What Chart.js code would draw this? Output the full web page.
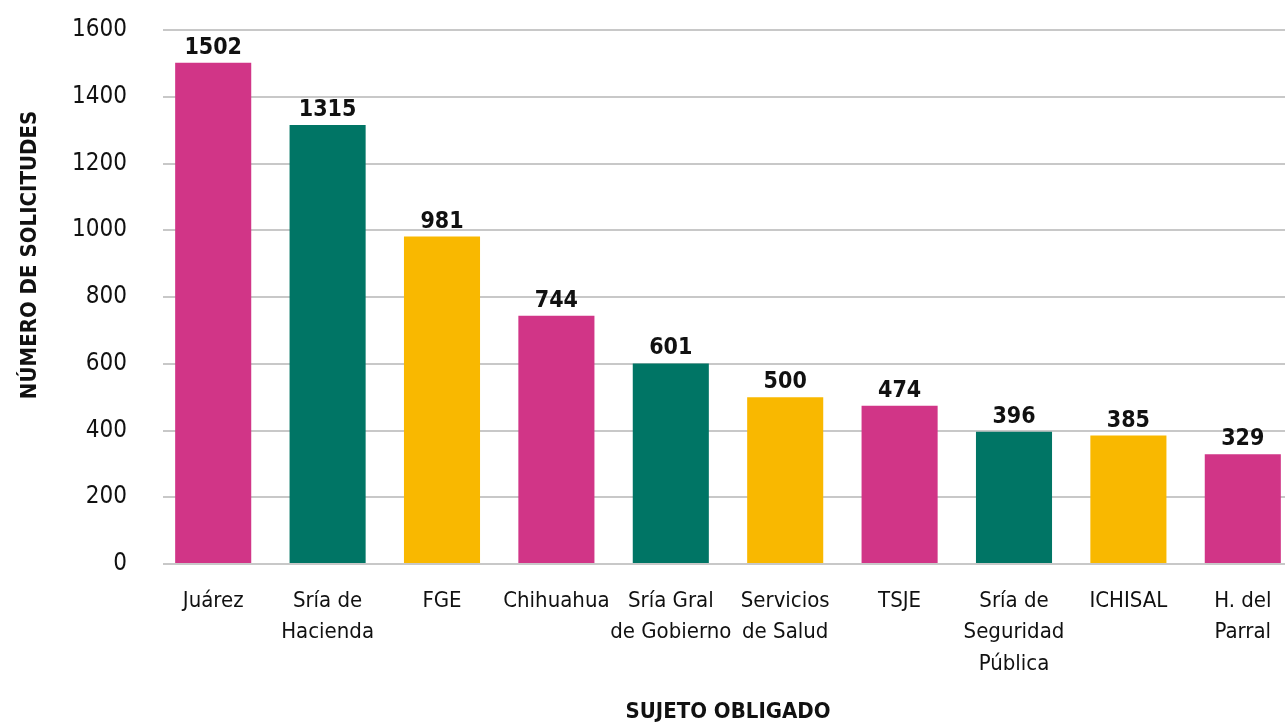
<!DOCTYPE html>
<html>
<head>
<meta charset="utf-8">
<script src="https://cdn.jsdelivr.net/npm/chart.js@4/dist/chart.umd.min.js"></script>
<style>
  html, body { margin: 0; padding: 0; background: #ffffff; overflow: hidden; }
  #wrap { width: 1285px; height: 723px; overflow: hidden; position: relative; }
  canvas { display: block; }
</style>
</head>
<body>
<div id="wrap"><canvas id="c" width="1300" height="723"></canvas></div>
<script>
const categories = [
  "Juárez",
  ["Sría de", "Hacienda"],
  "FGE",
  "Chihuahua",
  ["Sría Gral", "de Gobierno"],
  ["Servicios", "de Salud"],
  "TSJE",
  ["Sría de", "Seguridad", "Pública"],
  "ICHISAL",
  ["H. del", "Parral"]
];
const solicitudes = [1502, 1315, 981, 744, 601, 500, 474, 396, 385, 329];
const yTicks = [0, 200, 400, 600, 800, 1000, 1200, 1400, 1600];
const yTitle = "NÚMERO DE SOLICITUDES";
const xTitle = "SUJETO OBLIGADO";

const PINK = "#D13587", TEAL = "#007565", YELLOW = "#F9B800";
const barColors = categories.map((_, i) => [PINK, TEAL, YELLOW][i % 3]);
const FONT = "'Liberation Sans Narrow', 'DejaVu Sans Condensed', 'Liberation Sans', sans-serif";

const gridTrim = {
  id: "gridTrim",
  beforeDatasetsDraw(chart) {
    const ctx = chart.ctx;
    const a = chart.chartArea;
    ctx.save();
    ctx.fillStyle = "#ffffff";
    ctx.fillRect(a.left - 2, a.top - 3, 9, a.bottom - a.top + 6);
    ctx.restore();
  }
};

const valueLabels = {
  id: "valueLabels",
  afterDatasetsDraw(chart) {
    const ctx = chart.ctx;
    const meta = chart.getDatasetMeta(0);
    ctx.save();
    ctx.fillStyle = "#111111";
    ctx.font = "bold 23px " + FONT;
    ctx.textAlign = "center";
    ctx.textBaseline = "alphabetic";
    meta.data.forEach((bar, i) => {
      ctx.fillText(String(solicitudes[i]), bar.x, bar.y - 9);
    });
    ctx.restore();
  }
};

const axisTitles = {
  id: "axisTitles",
  afterDraw(chart) {
    const ctx = chart.ctx;
    const a = chart.chartArea;
    ctx.save();
    ctx.fillStyle = "#111111";
    ctx.font = "bold 22px " + FONT;
    ctx.textAlign = "center";
    ctx.textBaseline = "middle";
    ctx.fillText(xTitle, (a.left + a.right) / 2, 712);
    ctx.translate(30, 255);
    ctx.rotate(-Math.PI / 2);
    ctx.fillText(yTitle, 0, 0);
    ctx.restore();
  }
};

new Chart(document.getElementById("c"), {
  type: "bar",
  data: {
    labels: categories,
    datasets: [{
      data: solicitudes,
      backgroundColor: barColors,
      borderWidth: 0,
      categoryPercentage: 1.0,
      barPercentage: 0.665
    }]
  },
  options: {
    responsive: false,
    animation: false,
    layout: { padding: { top: 30, left: 0, right: 0, bottom: 0 } },
    plugins: {
      legend: { display: false },
      tooltip: { enabled: false },
      title: { display: false }
    },
    scales: {
      x: {
        grid: { display: false, drawTicks: false },
        border: { display: false },
        ticks: {
          color: "#111111",
          font: { family: FONT, size: 22, lineHeight: 1.44 },
          padding: 21,
          maxRotation: 0,
          autoSkip: false
        },
        afterFit(scale) { scale.height = 159; }
      },
      y: {
        min: 0,
        max: 1600,
        afterBuildTicks(scale) { scale.ticks = yTicks.map(v => ({ value: v })); },
        grid: { color: "#C8C8C8", lineWidth: 2, drawTicks: true, tickLength: 29, tickColor: "rgba(0,0,0,0)" },
        border: { display: false },
        ticks: {
          color: "#111111",
          font: { family: FONT, size: 24 },
          padding: 0,
          callback: (v) => String(v)
        },
        afterFit(scale) { scale.width = 156; }
      }
    }
  },
  plugins: [gridTrim, valueLabels, axisTitles]
});
</script>
</body>
</html>
